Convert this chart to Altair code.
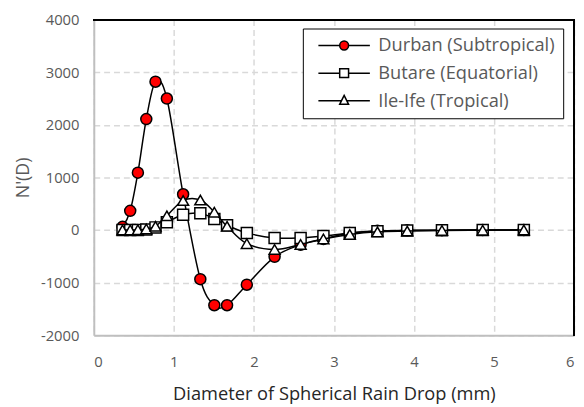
import altair as alt
import pandas as pd

# Drop-size classes (mm) and N'(D) values for each site
diam = [0.359, 0.455, 0.551, 0.656, 0.771, 0.913, 1.116, 1.331, 1.506, 1.665,
        1.912, 2.259, 2.584, 2.869, 3.198, 3.544, 3.916, 4.350, 4.859, 5.373]
durban = [60, 365, 1090, 2110, 2820, 2500, 680, -935, -1430, -1430,
          -1040, -510, -280, -170, -55, -15, -6, -3, -1, 0]
butare = [0, 0, 0, 10, 50, 150, 290, 320, 210, 90,
          -55, -150, -150, -115, -55, -22, -8, -4, -1, 0]
ileife = [0, 0, 5, 20, 70, 270, 560, 570, 340, 70,
          -260, -370, -275, -170, -85, -35, -20, -8, -3, 0]

series = ["Durban (Subtropical)", "Butare (Equatorial)", "Ile-Ife (Tropical)"]
values = [durban, butare, ileife]
fills = ["#ff0000", "#ffffff", "#ffffff"]
strokes = ["#000000", "#000000", "#000000"]
shapes = ["circle", "square", "triangle-up"]

x_ticks = [0, 1, 2, 3, 4, 5, 6]
y_ticks = [-2000, -1000, 0, 1000, 2000, 3000, 4000]

rows = []
for s, vals in zip(series, values):
    for d, v in zip(diam, vals):
        rows.append({"series": s, "D": d, "N": v})
df = pd.DataFrame(rows)

FONT = "Open Sans"
GRAY = "#595959"

xs = alt.Scale(domain=[0, 6], nice=False, zero=False)
ys = alt.Scale(domain=[-2000, 4000], nice=False, zero=False)

x_enc = alt.X("D:Q", scale=xs, axis=alt.Axis(
    values=x_ticks, title="Diameter of Spherical Rain Drop (mm)",
    labelExpr="'' + datum.value",
    grid=True, gridDash=[6, 4], gridColor="#d9d9d9", gridWidth=1.5,
    ticks=False, domainColor="#bfbfbf", domainWidth=2,
    labelFont=FONT, labelFontSize=15, labelColor=GRAY, labelPadding=20,
    titleFont=FONT, titleFontSize=18.5, titleFontWeight="normal", titleColor="#262626",
    titlePadding=15))
y_enc = alt.Y("N:Q", scale=ys, axis=alt.Axis(
    values=y_ticks, title="N'(D)",
    labelExpr="'' + datum.value",
    grid=True, gridDash=[6, 4], gridColor="#d9d9d9", gridWidth=1.5,
    ticks=False, domainColor="#bfbfbf", domainWidth=2,
    labelFont=FONT, labelFontSize=15, labelColor=GRAY, labelPadding=15,
    titleFont=FONT, titleFontSize=18, titleFontWeight="normal", titleColor=GRAY,
    titlePadding=8))

# legend symbols: line with marker in the middle (custom paths)
leg_paths = [
    "M-0.33,0H4.47M6.47,0H11.27M4.47,0A1,1,0,1,1,6.47,0A1,1,0,1,1,4.47,0Z",
    "M-0.33,0H4.47M6.47,0H11.27M4.47,-1H6.47V1H4.47Z",
    "M-0.33,0H4.87M6.07,0H11.27M5.47,-1.2L6.47,0.8H4.47Z",
]
legend = alt.Legend(
    title=None, orient="none", legendX=212, legendY=9, padding=8,
    strokeColor="black", fillColor="white",
    symbolStrokeColor="black", symbolStrokeWidth=1.5, symbolSize=81,
    labelFont=FONT, labelFontSize=18.5, labelColor=GRAY, labelOffset=50,
    labelLimit=400, rowPadding=9)

legend_layer = alt.Chart(df).transform_filter("false").mark_point(
    filled=True, strokeWidth=1.5, opacity=1
).encode(
    x=x_enc, y=y_enc,
    shape=alt.Shape("series:N", scale=alt.Scale(domain=series, range=leg_paths), legend=legend),
    fill=alt.Fill("series:N", scale=alt.Scale(domain=series, range=fills), legend=legend),
    stroke=alt.Stroke("series:N", scale=alt.Scale(domain=series, range=strokes), legend=legend),
)

layers = []
for s, shp, fc in zip(series, shapes, fills):
    base = alt.Chart(df).transform_filter(alt.datum.series == s)
    line = base.mark_line(color="black", strokeWidth=1.5, interpolate="cardinal").encode(
        x=x_enc, y=y_enc)
    pts = base.mark_point(filled=True, shape=shp, size=125, fill=fc, stroke="black",
                          strokeWidth=1.5, opacity=1).encode(x=x_enc, y=y_enc)
    layers += [line, pts]

top_rule = alt.Chart(df).mark_rule(color="black", strokeWidth=1.5).encode(
    y=alt.YDatum(4000))
right_rule = alt.Chart(df).mark_rule(color="black", strokeWidth=1.5).encode(
    x=alt.XDatum(6))

chart = alt.layer(legend_layer, *layers, top_rule, right_rule).properties(
    width=487, height=320,
    padding={"left": 87, "top": 9, "right": 2, "bottom": 70},
    autosize=alt.AutoSizeParams(type="none"),
    background="white",
).configure_view(stroke=None)

chart.save("out.html", embed_options={"renderer": "svg", "actions": False})
